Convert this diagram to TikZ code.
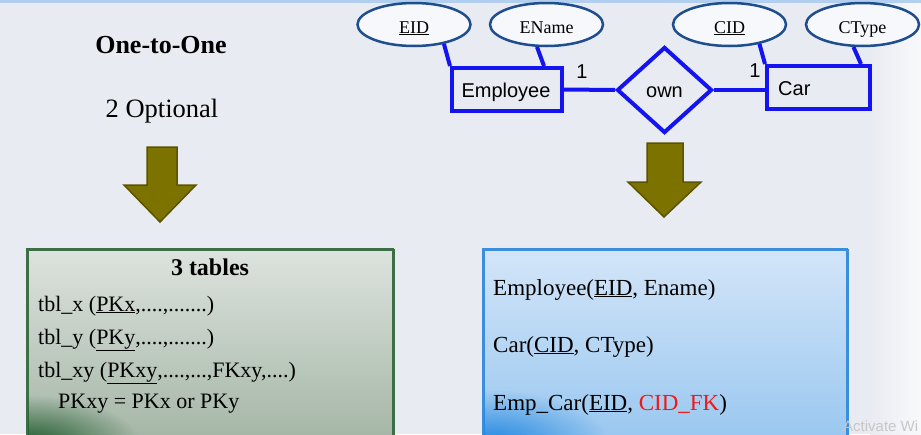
\documentclass[tikz,border=0pt]{standalone}
\usepackage{fontspec}
\setmainfont{Liberation Serif}
\newfontfamily\erfont{Liberation Sans}
\usetikzlibrary{shapes.geometric,calc,fadings}
\tikzfading[name=cornerfade, inner color=transparent!0, outer color=transparent!100]
\definecolor{bg}{HTML}{E9EBF2}
\definecolor{topbar}{HTML}{B3CFEF}
\definecolor{erblue}{HTML}{1414F0}
\definecolor{ellborder}{HTML}{1F4E8F}
\definecolor{ellfill}{HTML}{F7F8FC}
\definecolor{olive}{HTML}{7B7200}
\definecolor{olivedark}{HTML}{5A5300}
\definecolor{lborder}{HTML}{3E6E46}
\definecolor{ltop}{HTML}{DDE3DE}
\definecolor{lbot}{HTML}{A0B2A1}
\definecolor{ldark}{HTML}{1E5A2C}
\definecolor{rborder}{HTML}{3A8EDB}
\definecolor{rtop}{HTML}{D3E5F8}
\definecolor{rbot}{HTML}{95C5EF}
\definecolor{rdark}{HTML}{1F86E0}
\definecolor{fkred}{HTML}{F01818}
\tikzset{
  attr/.style={ellipse, draw=ellborder, line width=2.5pt, fill=ellfill, minimum width=113pt, minimum height=43pt, inner sep=0pt},
  attrtext/.style={anchor=base, font=\fontsize{18}{21}\selectfont},
  entity/.style={rectangle, draw=erblue, line width=4pt, inner sep=0pt},
  relation/.style={diamond, draw=erblue, line width=4pt, inner sep=0pt, minimum width=95pt, minimum height=86pt},
  erline/.style={draw=erblue, line width=4pt},
  ertext/.style={font=\erfont\fontsize{20}{24}\selectfont, inner sep=0pt},
  downarrow/.style={fill=olive, draw=olivedark, line width=1.5pt, line join=miter},
  tabtext/.style={anchor=base west, inner sep=0pt, font=\fontsize{22}{26}\selectfont},
  reltext/.style={anchor=base west, inner sep=0pt, font=\fontsize{23}{27}\selectfont},
}
\begin{document}
\begin{tikzpicture}[x=1pt,y=-1pt]
\useasboundingbox (0,0) rectangle (921,434);
\clip (0,0) rectangle (921,434);
\fill[bg] (0,0) rectangle (921,434);
\shade[left color=bg, right color=white!70!bg] (870,0) rectangle (921,434);
\fill[topbar] (0,0) rectangle (921,3);

% titles
\node[anchor=base, inner sep=0pt, font=\bfseries\fontsize{26}{30}\selectfont] (title) at (161,53) {One-to-One};
\node[anchor=base, inner sep=0pt, font=\fontsize{26.5}{30}\selectfont] (opt) at (162,117) {2 Optional};

% arrows
\draw[downarrow] (147,147) -- (177,147) -- (177,185) -- (196,185) -- (160,222) -- (124,185) -- (147,185) -- cycle;
\draw[downarrow] (647,143) -- (683,143) -- (683,182) -- (701,182) -- (664,217) -- (628,182) -- (647,182) -- cycle;

% ER diagram
\node[attr] (eid) at (414,24.5) {};
\node[attr] (ename) at (546.5,24.5) {};
\node[attr] (cid) at (729.5,24.5) {};
\node[attr] (ctype) at (862.5,24.5) {};
\node[attrtext] (eidt) at (414,33) {\underline{EID}};
\node[attrtext] (enamet) at (546.5,33) {EName};
\node[attrtext] (cidt) at (729.5,33) {\underline{CID}};
\node[attrtext] (ctypet) at (862.5,33) {CType};

\node[entity, minimum width=110pt, minimum height=43pt] (emp) at (507,89.5) {};
\node[entity, minimum width=103pt, minimum height=43pt] (car) at (818.5,87.5) {};
\node[relation] (own) at (664.5,90) {};
\node[ertext, anchor=base] (empt) at (506,97) {Employee};
\node[ertext, anchor=base west] (cart) at (778,95) {Car};
\node[ertext, anchor=base] (ownt) at (664.5,97) {own};
\node[ertext, anchor=base] (one1) at (582,78) {1};
\node[ertext, anchor=base] (one2) at (755,77) {1};

\draw[erline] (eid.-33) -- (emp.north west);
\draw[erline] (ename.-113) -- ($(emp.north east)+(-20,0)$);
\draw[erline] (cid.-33) -- (car.north west);
\draw[erline] (ctype.-112) -- ($(car.north east)+(-11,0)$);
\draw[erline] (emp.east) -- (own.west);
\draw[erline] (own.east) -- (own.east -| car.west);

% left box
\node[draw=lborder, line width=1.5pt, top color=ltop, bottom color=lbot, minimum width=366pt, minimum height=205pt, anchor=north west, inner sep=0pt] (lbox) at (27,249) {};
\begin{scope}
\clip (27.75,249.75) rectangle (392.25,440);
\fill[ldark, path fading=cornerfade] (30,445) ellipse [x radius=110pt, y radius=50pt];
\end{scope}
\draw[lborder, line width=1.5pt] (27,440) -- (27,249) -- (393,249) -- (393,440);
\node[anchor=base, inner sep=0pt, font=\bfseries\fontsize{24}{28}\selectfont] (three) at (210,275) {3 tables};
\node[tabtext] (tx) at (38,311) {tbl\_x (\underline{PKx},....,.......)};
\node[tabtext] (ty) at (38,344) {tbl\_y (\underline{PKy},....,.......)};
\node[tabtext] (txy) at (38,377) {tbl\_xy (\underline{PKxy},....,...,FKxy,....)};
\node[tabtext] (pk) at (58,408) {PKxy = PKx or PKy};

% right box
\node[draw=rborder, line width=1.5pt, top color=rtop, bottom color=rbot, minimum width=364pt, minimum height=205pt, anchor=north west, inner sep=0pt] (rbox) at (483,249) {};
\begin{scope}
\clip (483.75,249.75) rectangle (846.25,440);
\fill[rdark, path fading=cornerfade] (490,445) ellipse [x radius=120pt, y radius=55pt];
\end{scope}
\draw[rborder, line width=1.5pt] (483,440) -- (483,249) -- (847,249) -- (847,440);
\node[reltext] (r1) at (493,295) {Employee(\underline{EID}, Ename)};
\node[reltext] (r2) at (493,352) {Car(\underline{CID}, CType)};
\node[reltext] (r3) at (493,410) {Emp\_Car(\underline{EID}, \textcolor{fkred}{CID\_FK})};

% watermark
\node[anchor=base west, inner sep=0pt, text=black!22, font=\erfont\fontsize{15}{18}\selectfont] (wm) at (843,431) {Activate Wi};
\end{tikzpicture}
\end{document}
